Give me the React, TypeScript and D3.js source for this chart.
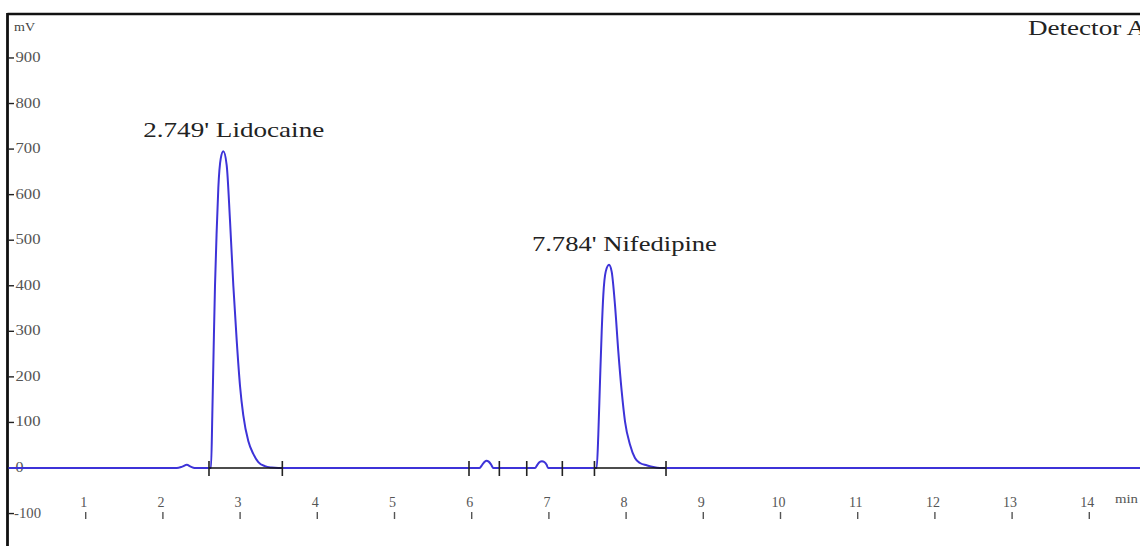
import React from "react";
import * as d3 from "d3";

// ---- data ----
const retentionTime = [
  0, 2.18, 2.25, 2.31, 2.36, 2.41,
  2.623, 2.64, 2.657, 2.675, 2.697, 2.718, 2.749, 2.783, 2.826, 2.869, 2.912, 2.956, 2.999, 3.041, 3.106, 3.171, 3.236, 3.322, 3.409, 3.495,
  6.1, 6.14, 6.17, 6.19, 6.22, 6.25, 6.28,
  6.82, 6.85, 6.88, 6.91, 6.94, 6.97, 6.99,
  7.619, 7.64, 7.662, 7.684, 7.705, 7.736, 7.779, 7.813, 7.856, 7.899, 7.943, 7.986, 8.051, 8.115, 8.18, 8.267, 8.352, 8.439,
  14.7,
];
const signalMv = [
  0, 0, 3, 7, 3, 0,
  0, 116, 259, 401, 522, 615, 679, 695, 665, 544, 401, 280, 180, 116, 59, 31, 13, 4, 1, 0,
  0, 8, 14, 16, 14, 8, 0,
  0, 7, 13, 15, 13, 7, 0,
  0, 73, 190, 300, 380, 431, 446, 431, 358, 256, 168, 102, 51, 22, 11, 6, 2, 0,
  0,
];

const peakStart = [2.597, 5.965, 6.713, 7.59];
const peakEnd = [3.547, 6.358, 7.174, 8.517];
const peakIntegrated = [true, false, false, true];

const labelNames = ["2.749' Lidocaine", "7.784' Nifedipine"];
const labelTimes = [2.749, 7.784];
const labelHeights = [695, 446];
const labelWidths = [181, 185];

const yTicks = [-100, 0, 100, 200, 300, 400, 500, 600, 700, 800, 900];
const xTicks = [1, 2, 3, 4, 5, 6, 7, 8, 9, 10, 11, 12, 13, 14];

const W = 1140;
const H = 546;
const SERIF = "'Liberation Serif', 'Times New Roman', serif";

export default function App() {
  const x = d3.scaleLinear().domain([0, 14]).range([8.5, 8.5 + 77.2 * 14]);
  const y = d3.scaleLinear().domain([0, 1000]).range([468, 12.4]);

  const pts: [number, number][] = retentionTime.map((t, i) => [t, signalMv[i]]);
  const line = d3
    .line<[number, number]>()
    .x((d) => x(d[0]))
    .y((d) => y(d[1]))
    .curve(d3.curveMonotoneX);
  const path = line(pts) || "";

  const y0 = y(0);
  const blue = "#3d33d8";

  return (
    <svg
      width={W}
      height={H}
      style={{ position: "absolute", left: 0, top: 0, background: "#fff" }}
      fontFamily={SERIF}
    >
      <rect x={0} y={0} width={W} height={H} fill="#fff" />
      {/* frame */}
      <line x1={7.5} y1={14} x2={W} y2={14} stroke="#111" strokeWidth={2.6} />
      <line x1={7.5} y1={13} x2={7.5} y2={H} stroke="#111" strokeWidth={2.8} />

      {/* y axis ticks */}
      <text x={14} y={31} fontSize={12} fill="#444" textLength={21} lengthAdjust="spacingAndGlyphs">
        mV
      </text>
      {yTicks.map((v) => (
        <g key={v}>
          <line x1={8} x2={14} y1={y(v)} y2={y(v)} stroke="#222" strokeWidth={1.4} />
          <text
            x={v < 0 ? 14 : 15.5}
            y={y(v) + 4}
            fontSize={14}
            fill="#555"
            textLength={v === 0 ? 8 : v < 0 ? 27 : 25}
            lengthAdjust="spacingAndGlyphs"
          >
            {v < 0 ? "-" + Math.abs(v) : String(v)}
          </text>
        </g>
      ))}

      {/* x axis labels and ticks */}
      {xTicks.map((t) => (
        <g key={t}>
          <text x={x(t) - 2} y={507} fontSize={14} fill="#555" textAnchor="middle">
            {t}
          </text>
          <line x1={x(t)} x2={x(t)} y1={512} y2={519} stroke="#555" strokeWidth={1.4} />
        </g>
      ))}
      <text x={1115} y={503} fontSize={13} fill="#555" textLength={23} lengthAdjust="spacingAndGlyphs">
        min
      </text>

      {/* chromatogram */}
      <path d={path} fill="none" stroke={blue} strokeWidth={2} />

      {/* integration baselines and markers */}
      {peakStart.map((s, i) => (
        <g key={i}>
          {peakIntegrated[i] && (
            <line x1={x(s)} x2={x(peakEnd[i])} y1={y0} y2={y0} stroke="#111" strokeWidth={1.4} />
          )}
          <line x1={x(s)} x2={x(s)} y1={y0 - 7} y2={y0 + 8} stroke="#222" strokeWidth={1.6} />
          <line x1={x(peakEnd[i])} x2={x(peakEnd[i])} y1={y0 - 7} y2={y0 + 8} stroke="#222" strokeWidth={1.6} />
        </g>
      ))}

      {/* peak labels */}
      {labelNames.map((n, i) => (
        <text
          key={n}
          x={x(labelTimes[i]) - 77.5}
          y={y(labelHeights[i]) - 14}
          fontSize={21}
          fill="#222"
          textLength={labelWidths[i]}
          lengthAdjust="spacingAndGlyphs"
        >
          {n}
        </text>
      ))}

      <text x={1028} y={35} fontSize={22} fill="#222" textLength={118} lengthAdjust="spacingAndGlyphs">
        Detector A
      </text>
    </svg>
  );
}
